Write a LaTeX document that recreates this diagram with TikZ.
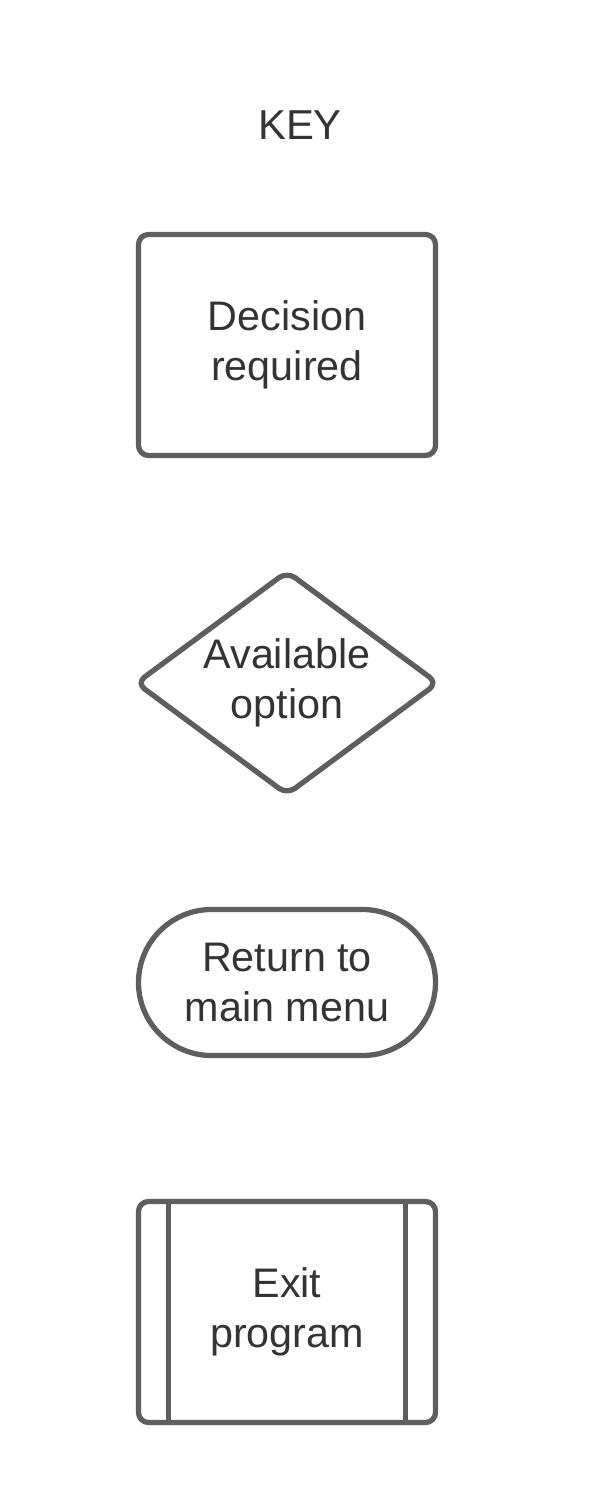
\documentclass[tikz,border=0pt]{standalone}
\usepackage{fontspec}
\setmainfont{Liberation Sans}
\usepackage{tikz}
\usetikzlibrary{positioning, shapes.geometric}
\definecolor{keyLine}{HTML}{5E5E5E}
\definecolor{keyText}{HTML}{333333}
\tikzset{
  keyshape/.style={draw=keyLine, line width=3pt, text=keyText, outer sep=0pt,
    font=\fontsize{23.5}{28.5}\selectfont, align=center},
  keybox/.style={keyshape, rectangle, rounded corners=0.2cm, minimum width=5.94cm, minimum height=4.42cm},
  keydiamond/.style={keyshape, diamond, aspect=1.34, rounded corners=0.2cm, inner xsep=0pt, inner ysep=-0.3cm,
    minimum width=6.02cm, minimum height=4.45cm},
  keypill/.style={keyshape, rectangle, rounded corners=1.46cm, minimum width=5.94cm, minimum height=2.92cm},
  keyline/.style={draw=keyLine, line width=3pt}
}

\begin{document}
\begin{tikzpicture}[on grid]
\useasboundingbox (0,0) rectangle (12,-30);
\node[text=keyText, font=\fontsize{23.8}{28}\selectfont] (keyTitle) at (6,-2.5) {KEY};
\node[keybox] (decision) at (5.74,-6.9) {Decision\\required};
\node[keydiamond, below=6.76cm of decision] (option) {Available\\option};
\node[keypill, below=5.99cm of option] (menu) {Return to\\main menu};
\node[keybox, below=6.59cm of menu] (exit) {Exit\\program};
\draw[keyline] ([xshift=0.6cm]exit.north west) -- ([xshift=0.6cm]exit.south west);
\draw[keyline] ([xshift=-0.6cm]exit.north east) -- ([xshift=-0.6cm]exit.south east);
\end{tikzpicture}
\end{document}
